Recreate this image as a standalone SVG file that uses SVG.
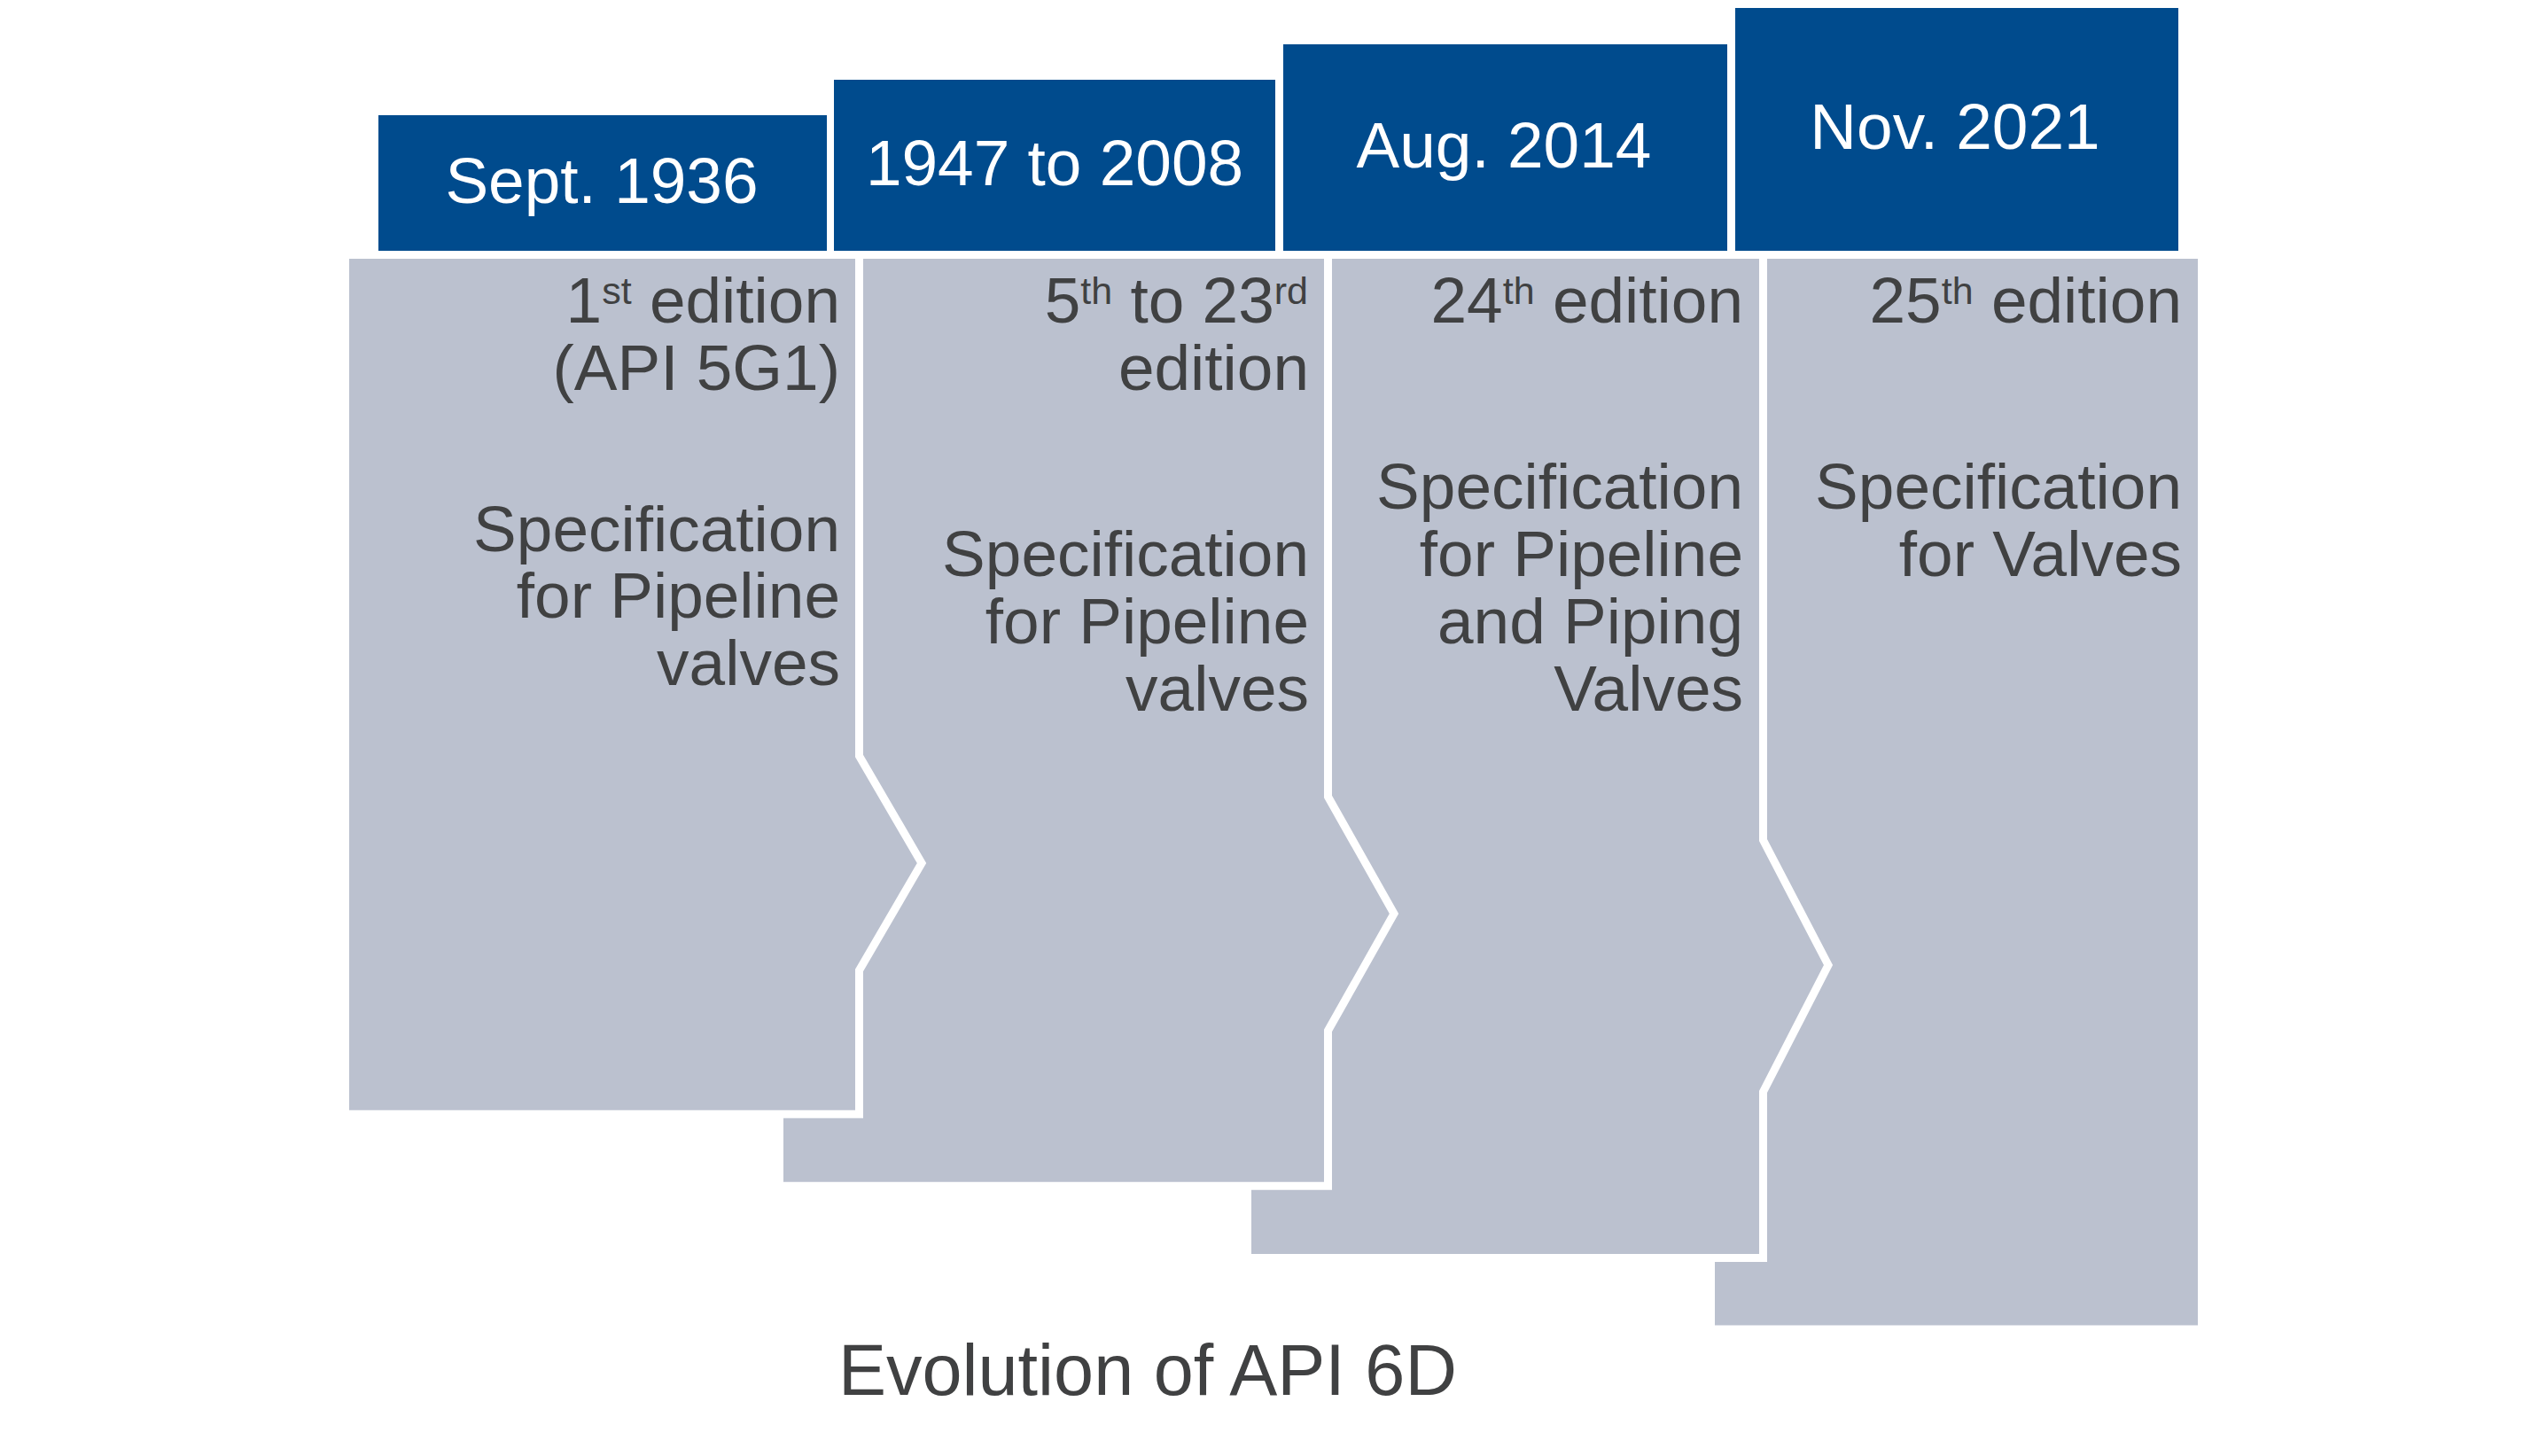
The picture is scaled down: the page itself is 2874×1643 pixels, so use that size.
<svg xmlns="http://www.w3.org/2000/svg" width="2874" height="1643" viewBox="0 0 2874 1643">
<style>
.bg{fill:#ffffff}
.band{fill:#BBC1CF;stroke:#ffffff;stroke-width:9;stroke-linejoin:miter}
.head{fill:#004B8D}
.ht{font-family:"Liberation Sans",Arial,sans-serif;font-size:73px;fill:#ffffff;text-anchor:middle}
.bt{font-family:"Liberation Sans",Arial,sans-serif;font-size:73px;fill:#404142;text-anchor:end}
.sup{font-size:43px}
.title{font-family:"Liberation Sans",Arial,sans-serif;font-size:81px;fill:#404142}
</style>
<rect class="bg" x="0" y="0" width="2874" height="1643"/>
<g id="connectors"/>
<g id="node-4">
<path class="band" d="M1930.5,287.5 H2484.5 V1500 H1930.5 Z"/>
<rect class="head" x="1958" y="9" width="500" height="274"/>
<text class="ht" x="2206" y="168">Nov. 2021</text>
<text class="bt" x="2462" y="364">25<tspan class="sup" dy="-21">th</tspan><tspan dy="21"> edition</tspan></text>
<text class="bt" x="2462" y="574">Specification</text>
<text class="bt" x="2462" y="650">for Valves</text>
</g>
<g id="node-3">
<path class="band" d="M1407.5,287.5 H1989.5 V948 L2063,1089 L1989.5,1232 V1419.5 H1407.5 Z"/>
<rect class="head" x="1448" y="50" width="501" height="233"/>
<text class="ht" x="1697" y="189">Aug. 2014</text>
<text class="bt" x="1967" y="364">24<tspan class="sup" dy="-21">th</tspan><tspan dy="21"> edition</tspan></text>
<text class="bt" x="1967" y="574">Specification</text>
<text class="bt" x="1967" y="650">for Pipeline</text>
<text class="bt" x="1967" y="726">and Piping</text>
<text class="bt" x="1967" y="802">Valves</text>
</g>
<g id="node-2">
<path class="band" d="M879.5,287.5 H1498.5 V899 L1573,1031 L1498.5,1163 V1338.2 H879.5 Z"/>
<rect class="head" x="941" y="90" width="498" height="193"/>
<text class="ht" x="1190" y="209">1947 to 2008</text>
<text class="bt" x="1476" y="364">5<tspan class="sup" dy="-21">th</tspan><tspan dy="21"> to 23</tspan><tspan class="sup" dy="-21">rd</tspan></text>
<text class="bt" x="1477" y="440">edition</text>
<text class="bt" x="1477" y="650">Specification</text>
<text class="bt" x="1477" y="726">for Pipeline</text>
<text class="bt" x="1477" y="802">valves</text>
</g>
<g id="node-1">
<path class="band" d="M389.5,287.5 H969.5 V853 L1040,974 L969.5,1095 V1257.2 H389.5 Z"/>
<rect class="head" x="427" y="130" width="506" height="153"/>
<text class="ht" x="679" y="229">Sept. 1936</text>
<text class="bt" x="948" y="364">1<tspan class="sup" dy="-21">st</tspan><tspan dy="21"> edition</tspan></text>
<text class="bt" x="948" y="440">(API 5G1)</text>
<text class="bt" x="948" y="622">Specification</text>
<text class="bt" x="948" y="697">for Pipeline</text>
<text class="bt" x="948" y="773">valves</text>
</g>
<text class="title" x="946" y="1574">Evolution of API 6D</text>
</svg>
